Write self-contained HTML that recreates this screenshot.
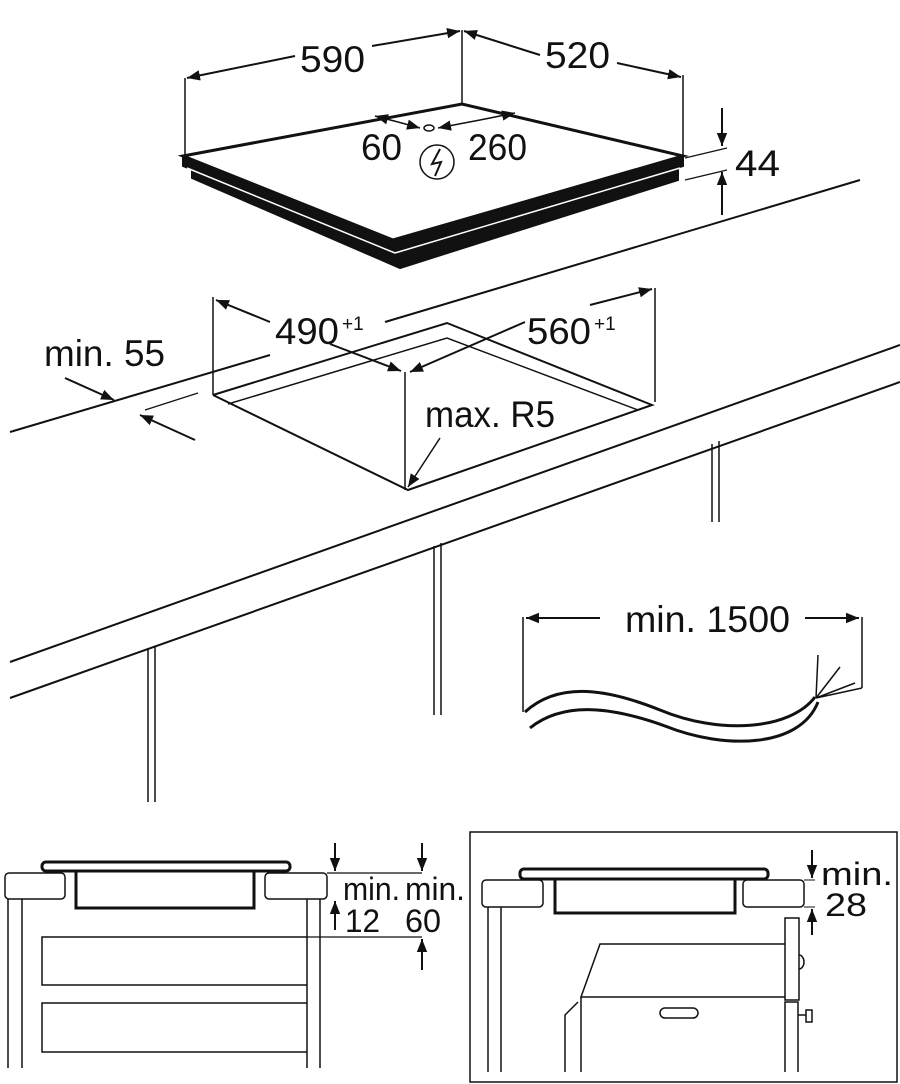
<!DOCTYPE html>
<html><head><meta charset="utf-8"><style>
html,body{margin:0;padding:0;background:#fff}
svg{display:block}
text{font-family:"Liberation Sans",sans-serif;fill:#111}
</style></head><body>
<svg width="900" height="1084" viewBox="0 0 900 1084" xmlns="http://www.w3.org/2000/svg">
<defs>
<marker id="a" viewBox="0 0 10 10" refX="10" refY="5" markerWidth="13" markerHeight="13" markerUnits="userSpaceOnUse" orient="auto"><path d="M0,1 L10,5 L0,9 z" fill="#111"/></marker>
</defs>
<g stroke="#111" fill="none" stroke-width="2">
<polygon points="192,166 395,250 678,166 678,180 400,268 192,178" fill="#111"/>
<polygon points="183,156 393,240 683,156 683,166 393,250 183,166" fill="#111"/>
<polygon points="183,156 462,104 683,156 393,240" fill="#fff" stroke-width="3"/>
<line x1="187" y1="168" x2="395" y2="253" stroke="#fff" stroke-width="1.5"/>
<line x1="395" y1="253" x2="680" y2="168" stroke="#fff" stroke-width="1.5"/>
<line x1="462" y1="30" x2="462" y2="104" stroke-width="1.5"/>
<line x1="185" y1="78" x2="185" y2="156" stroke-width="1.5"/>
<line x1="683" y1="75" x2="683" y2="156" stroke-width="1.5"/>
<line x1="295" y1="56" x2="187" y2="78" marker-end="url(#a)"/>
<line x1="372" y1="46" x2="460" y2="31" marker-end="url(#a)"/>
<line x1="540" y1="55" x2="464" y2="31" marker-end="url(#a)"/>
<line x1="617" y1="63" x2="681" y2="77" marker-end="url(#a)"/>
<line x1="398" y1="122" x2="420" y2="128" marker-end="url(#a)" stroke-width="1.5"/>
<line x1="398" y1="122" x2="375" y2="116" marker-end="url(#a)" stroke-width="1.5"/>
<line x1="480" y1="120" x2="438" y2="128" marker-end="url(#a)" stroke-width="1.5"/>
<line x1="480" y1="120" x2="515" y2="113" marker-end="url(#a)" stroke-width="1.5"/>
<ellipse cx="429" cy="128" rx="5" ry="3" stroke-width="1.5"/>
<circle cx="437" cy="162" r="17" stroke-width="1.5"/>
<path d="M440,149 L432,164 L441,162 L435,176" stroke-width="2"/>
<line x1="685" y1="158" x2="727" y2="148" stroke-width="1.2"/>
<line x1="685" y1="180" x2="727" y2="170" stroke-width="1.2"/>
<line x1="722" y1="108" x2="722" y2="146" marker-end="url(#a)"/>
<line x1="722" y1="215" x2="722" y2="172" marker-end="url(#a)"/>
<line x1="10" y1="432" x2="270" y2="355"/>
<line x1="385" y1="322" x2="860" y2="180"/>
<line x1="10" y1="662" x2="900" y2="345"/>
<line x1="10" y1="698" x2="900" y2="382"/>
<polyline points="213,395 447,323 652,405 408,490 213,395"/>
<polyline points="228,404 447,338 638,410" stroke-width="1.5"/>
<line x1="405" y1="372" x2="405" y2="490" stroke-width="1.5"/>
<line x1="213" y1="297" x2="213" y2="395" stroke-width="1.5"/>
<line x1="655" y1="288" x2="655" y2="402" stroke-width="1.5"/>
<line x1="270" y1="322" x2="216" y2="300" marker-end="url(#a)"/>
<line x1="330" y1="344" x2="401" y2="371" marker-end="url(#a)"/>
<line x1="590" y1="305" x2="652" y2="289" marker-end="url(#a)"/>
<line x1="525" y1="322" x2="410" y2="372" marker-end="url(#a)"/>
<line x1="440" y1="438" x2="408" y2="487" marker-end="url(#a)" stroke-width="1.5"/>
<line x1="65" y1="378" x2="114" y2="400" marker-end="url(#a)"/>
<line x1="195" y1="440" x2="140" y2="415" marker-end="url(#a)"/>
<line x1="145" y1="410" x2="198" y2="393" stroke-width="1.2"/>
<line x1="148" y1="648" x2="148" y2="802" stroke-width="1.5"/><line x1="155" y1="646" x2="155" y2="802" stroke-width="1.5"/>
<line x1="434" y1="546" x2="434" y2="715" stroke-width="1.5"/><line x1="441" y1="543" x2="441" y2="715" stroke-width="1.5"/>
<line x1="712" y1="444" x2="712" y2="522" stroke-width="1.5"/><line x1="719" y1="441" x2="719" y2="522" stroke-width="1.5"/>
<line x1="523" y1="617" x2="523" y2="712" stroke-width="1.5"/>
<line x1="862" y1="617" x2="862" y2="688" stroke-width="1.5"/>
<line x1="600" y1="618" x2="526" y2="618" marker-end="url(#a)"/>
<line x1="805" y1="618" x2="859" y2="618" marker-end="url(#a)"/>
<path d="M525,712 C560,680 610,690 660,710 C720,735 790,730 815,697" stroke-width="3"/>
<path d="M530,728 C565,700 615,708 665,726 C725,750 800,748 818,702" stroke-width="3"/>
<path d="M816,698 L818,655 M816,698 L840,667 M816,698 L855,683 M816,698 L862,688" stroke-width="1.5"/>
<rect x="5" y="873" width="60" height="26" rx="4" stroke-width="1.5"/>
<rect x="265" y="873" width="62" height="26" rx="4" stroke-width="1.5"/>
<rect x="42" y="862" width="248" height="9" rx="4" stroke-width="3"/>
<rect x="76" y="871" width="178" height="37" stroke-width="3"/>
<line x1="8" y1="899" x2="8" y2="1068" stroke-width="1.5"/><line x1="22" y1="899" x2="22" y2="1068" stroke-width="1.5"/>
<line x1="307" y1="899" x2="307" y2="1068" stroke-width="1.5"/><line x1="320" y1="899" x2="320" y2="1068" stroke-width="1.5"/>
<polyline points="307,937 42,937 42,985 307,985" stroke-width="1.5"/>
<polyline points="307,1003 42,1003 42,1052 307,1052" stroke-width="1.5"/>
<line x1="327" y1="873" x2="422" y2="873" stroke-width="1.2"/>
<line x1="307" y1="937" x2="422" y2="937" stroke-width="1.2"/>
<line x1="335" y1="843" x2="335" y2="871" marker-end="url(#a)"/>
<line x1="422" y1="843" x2="422" y2="871" marker-end="url(#a)"/>
<line x1="335" y1="930" x2="335" y2="901" marker-end="url(#a)"/>
<line x1="422" y1="970" x2="422" y2="939" marker-end="url(#a)"/>
<rect x="470" y="832" width="427" height="250" stroke-width="1.5"/>
<rect x="482" y="880" width="61" height="27" rx="4" stroke-width="1.5"/>
<rect x="743" y="880" width="61" height="27" rx="4" stroke-width="1.5"/>
<rect x="520" y="869" width="248" height="10" rx="4" stroke-width="3"/>
<rect x="555" y="879" width="180" height="34" stroke-width="3"/>
<line x1="488" y1="907" x2="488" y2="1072" stroke-width="1.5"/><line x1="501" y1="907" x2="501" y2="1072" stroke-width="1.5"/>
<rect x="785" y="918" width="14" height="82" stroke-width="1.5"/>
<path d="M799,955 a5,7 0 0 1 0,14" stroke-width="1.5"/>
<polyline points="785,1072 785,1002 798,1002 798,1072" stroke-width="1.5"/>
<path d="M798,1015 h8 M806,1010 v12 h6 v-12 z" stroke-width="1.5"/>
<polyline points="785,944 600,944 581,997 785,997" stroke-width="1.5"/>
<polyline points="581,997 581,1072" stroke-width="1.5"/>
<polyline points="578,1002 565,1015 565,1072" stroke-width="1.5"/>
<rect x="660" y="1008" width="38" height="10" rx="5" stroke-width="1.5"/>
<line x1="812" y1="850" x2="812" y2="878" marker-end="url(#a)"/>
<line x1="812" y1="935" x2="812" y2="909" marker-end="url(#a)"/>
<line x1="804" y1="880" x2="815" y2="880" stroke-width="1"/>
<line x1="804" y1="907" x2="815" y2="907" stroke-width="1"/>
</g>
<g font-size="37">
<text x="300" y="72" textLength="65" lengthAdjust="spacingAndGlyphs">590</text>
<text x="545" y="68" textLength="65" lengthAdjust="spacingAndGlyphs">520</text>
<text x="361" y="160" textLength="41" lengthAdjust="spacingAndGlyphs">60</text>
<text x="468" y="160" textLength="59" lengthAdjust="spacingAndGlyphs">260</text>
<text x="735" y="176" textLength="45" lengthAdjust="spacingAndGlyphs">44</text>
<text x="275" y="344" textLength="64" lengthAdjust="spacingAndGlyphs">490</text>
<text x="342" y="330" font-size="19">+1</text>
<text x="527" y="344" textLength="64" lengthAdjust="spacingAndGlyphs">560</text>
<text x="594" y="330" font-size="19">+1</text>
<text x="44" y="366" textLength="121" lengthAdjust="spacingAndGlyphs">min. 55</text>
<text x="425" y="427" textLength="130" lengthAdjust="spacingAndGlyphs">max. R5</text>
<text x="625" y="632" textLength="165" lengthAdjust="spacingAndGlyphs">min. 1500</text>
</g>
<g font-size="32">
<text x="343" y="900" textLength="57" lengthAdjust="spacingAndGlyphs">min.</text>
<text x="405" y="900" textLength="60" lengthAdjust="spacingAndGlyphs">min.</text>
<text x="345" y="932" textLength="35" lengthAdjust="spacingAndGlyphs">12</text>
<text x="405" y="932" textLength="36" lengthAdjust="spacingAndGlyphs">60</text>
<text x="821" y="885" textLength="72" lengthAdjust="spacingAndGlyphs">min.</text>
<text x="825" y="916" textLength="42" lengthAdjust="spacingAndGlyphs">28</text>
</g>
</svg>
</body></html>
